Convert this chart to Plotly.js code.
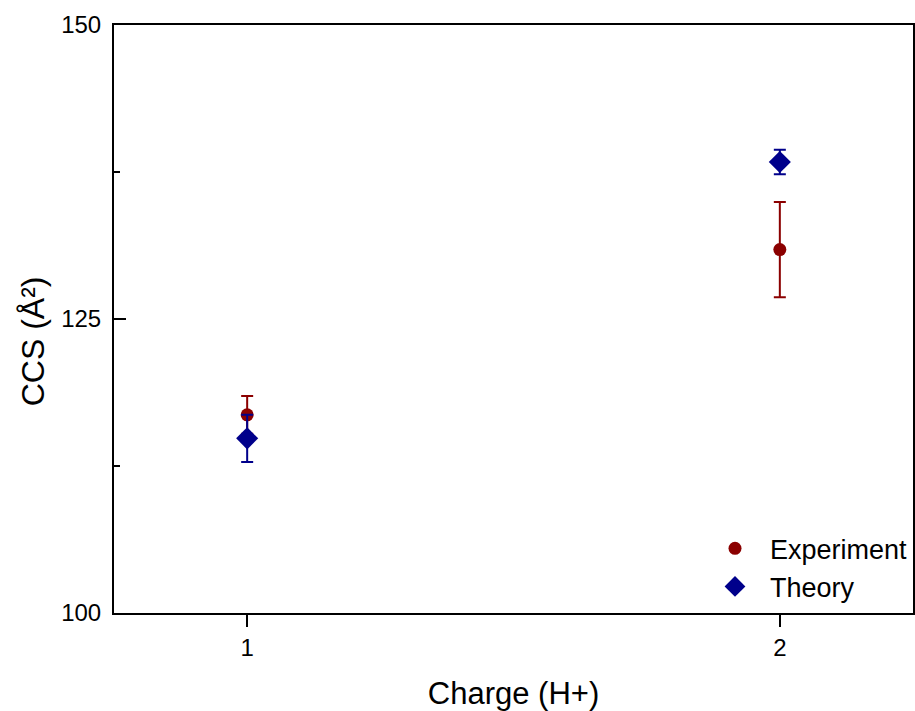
<!DOCTYPE html>
<html>
<head>
<meta charset="utf-8">
<script src="https://cdn.plot.ly/plotly-3.0.1.min.js"></script>
<style>
  html, body { margin: 0; padding: 0; background: #ffffff; }
  #chart { width: 915px; height: 711px; }
</style>
</head>
<body>
<div id="chart"></div>
<script>
// Collision cross sections by charge state
const charge = [1, 2];
const experimentCCS = [116.85, 130.9];
const experimentErr = [1.6, 4.05];
const theoryCCS = [114.85, 138.35];
const theoryErr = [2.0, 1.05];
const yTickVals = [100, 125, 150];
const xTickVals = [1, 2];

const FONT = 'Arial, "Liberation Sans", sans-serif';

const experiment = {
  x: charge,
  y: experimentCCS,
  name: 'Experiment',
  type: 'scatter',
  mode: 'markers',
  marker: { symbol: 'circle', size: 13, color: '#8b0000' },
  error_y: { type: 'data', array: experimentErr, visible: true, color: '#8b0000', thickness: 2, width: 6 }
};

const theory = {
  x: charge,
  y: theoryCCS,
  name: 'Theory',
  type: 'scatter',
  mode: 'markers',
  marker: { symbol: 'diamond', size: 17, color: '#00008b' },
  error_y: { type: 'data', array: theoryErr, visible: true, color: '#00008b', thickness: 2, width: 6 }
};

const layout = {
  width: 915,
  height: 711,
  margin: { l: 114, r: 2, t: 25, b: 98 },
  paper_bgcolor: '#ffffff',
  plot_bgcolor: '#ffffff',
  font: { family: FONT, color: '#000000' },
  showlegend: true,
  legend: {
    x: 1, xanchor: 'right', y: 0.003, yanchor: 'bottom',
    bgcolor: 'rgba(0,0,0,0)',
    font: { size: 27, family: FONT, color: '#000000' },
    tracegroupgap: 0,
    itemwidth: 60,
    itemsizing: 'trace'
  },
  xaxis: {
    range: [0.75, 2.25],
    tickvals: xTickVals,
    ticktext: xTickVals.map(String),
    ticks: 'outside', ticklen: 12, tickwidth: 2, tickcolor: '#000',
    showline: true, linecolor: '#000', linewidth: 2, mirror: true,
    showgrid: false, zeroline: false,
    tickfont: { size: 24, family: FONT },
    title: { text: 'Charge (H+)', font: { size: 31, family: FONT }, standoff: 24 }
  },
  yaxis: {
    range: [100, 150],
    tickvals: yTickVals,
    ticks: 'inside', ticklen: 12, tickwidth: 2, tickcolor: '#000',
    ticklabelstandoff: 6,
    showline: true, linecolor: '#000', linewidth: 2, mirror: true,
    showgrid: false, zeroline: false,
    tickfont: { size: 24, family: FONT },
    minor: { dtick: 12.5, tick0: 100, ticks: 'inside', ticklen: 6, tickwidth: 2, tickcolor: '#000', showgrid: false }
  },
  annotations: [{
    text: 'CCS (Å²)',
    xref: 'paper', yref: 'paper',
    x: -0.1014, y: 0.462,
    xanchor: 'center', yanchor: 'middle',
    textangle: -90,
    showarrow: false,
    font: { size: 32, family: FONT, color: '#000000' }
  }]
};

Plotly.newPlot('chart', [experiment, theory], layout, { displayModeBar: false, staticPlot: true });
</script>
</body>
</html>
